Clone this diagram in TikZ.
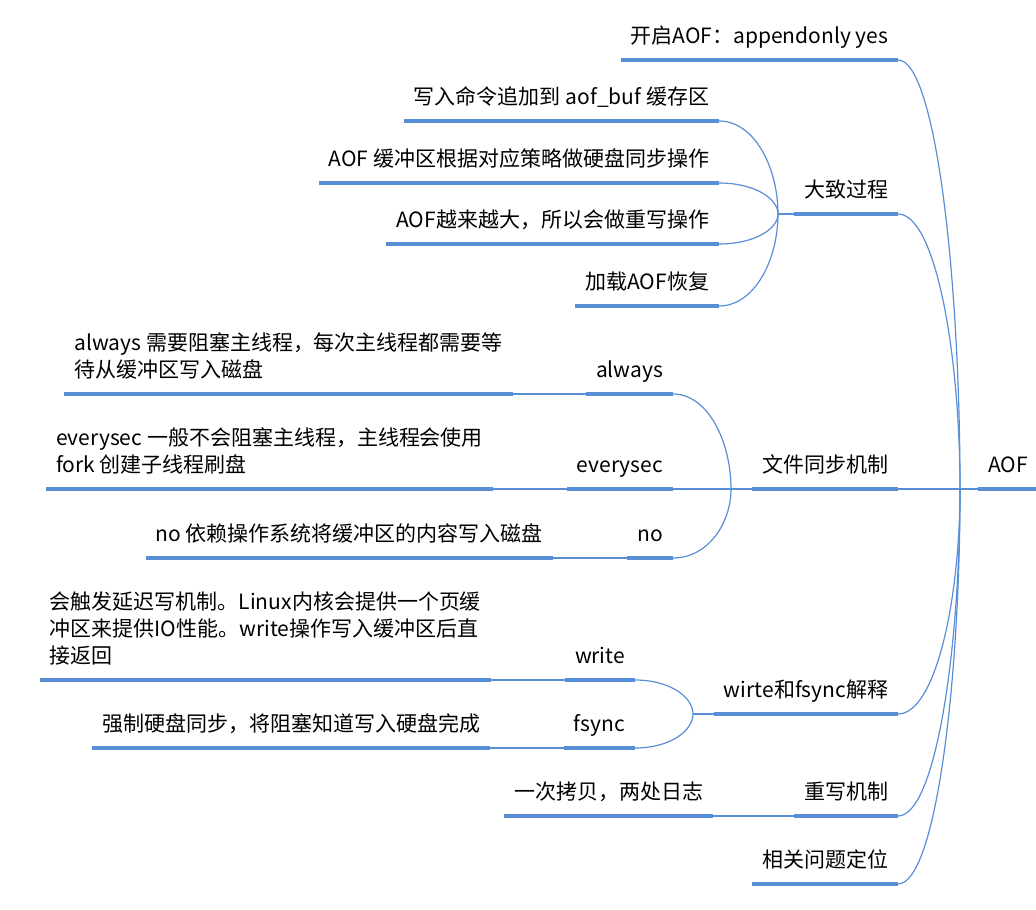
\documentclass[tikz,border=0pt]{standalone}
\usepackage{fontspec}
\setmainfont{Noto Sans CJK SC}
\usepackage{xcolor}
\usetikzlibrary{positioning,calc}
\definecolor{mapblue}{RGB}{88,142,214}

\begin{document}
\begin{tikzpicture}[
  x=1pt, y=-1pt,
  font=\fontsize{21}{27}\selectfont,
  topic/.style={inner xsep=10pt, inner ysep=8pt, outer sep=0pt, align=left, execute at end node=\strut},
  underbar/.style={draw=mapblue, line width=4pt},
  branch/.style={draw=mapblue, line width=1.2pt},
  mapbend/.style={to path={.. controls ($(\tikztostart)!0.6!(\tikztostart -| \tikztotarget)$)
    and ($(\tikztotarget)!0.5!(\tikztostart -| \tikztotarget)$) .. (\tikztotarget)}}
]
\useasboundingbox (0,0) rectangle (1036,910);

% root and main topics
\node[topic, anchor=south west] (aof) at (978,489) {AOF};
\node[topic, anchor=south east] (start) at (898,60) {开启AOF：appendonly yes};
\node[topic, anchor=south east] (process) at (898,214) {大致过程};
\node[topic, anchor=south east] (sync) at (898,489) {文件同步机制};
\node[topic, anchor=south east] (wf) at (898,714) {wirte和fsync解释};
\node[topic, anchor=south east] (rewrite) at (898,816) {重写机制};
\node[topic, anchor=south east] (locate) at (898,884) {相关问题定位};

% 大致过程
\node[topic, anchor=south east] (p-append) at (719,121) {写入命令追加到 aof\_buf 缓存区};
\node[topic, anchor=south east] (p-sync) at (719,183) {AOF 缓冲区根据对应策略做硬盘同步操作};
\node[topic, anchor=south east] (p-rewrite) at (719,244) {AOF越来越大，所以会做重写操作};
\node[topic, anchor=south east] (p-load) at (719,306) {加载AOF恢复};

% 文件同步机制
\node[topic, anchor=south east] (always) at (673,394) {always};
\node[topic, anchor=south east] (everysec) at (673,489) {everysec};
\node[topic, anchor=south east] (no) at (673,558) {no};
\node[topic, anchor=south east] (always-note) at (513,394) {always 需要阻塞主线程，每次主线程都需要等\\待从缓冲区写入磁盘};
\node[topic, anchor=south east] (everysec-note) at (493,489) {everysec 一般不会阻塞主线程，主线程会使用\\fork 创建子线程刷盘};
\node[topic, anchor=south east] (no-note) at (553,558) {no 依赖操作系统将缓冲区的内容写入磁盘};

% wirte和fsync解释
\node[topic, anchor=south east] (write) at (635,680) {write};
\node[topic, anchor=south east] (fsync) at (635,748) {fsync};
\node[topic, anchor=south east] (write-note) at (491,680) {会触发延迟写机制。Linux内核会提供一个页缓\\冲区来提供IO性能。write操作写入缓冲区后直\\接返回};
\node[topic, anchor=south east] (fsync-note) at (490,748) {强制硬盘同步，将阻塞知道写入硬盘完成};

% 重写机制
\node[topic, anchor=south east] (rewrite-note) at (713,816) {一次拷贝，两处日志};

\foreach \n in {aof,start,process,sync,wf,rewrite,locate,p-append,p-sync,p-rewrite,p-load,
  always,everysec,no,always-note,everysec-note,no-note,write,fsync,write-note,fsync-note,rewrite-note}
  \draw[underbar] (\n.south west) -- (\n.south east);

\coordinate (aof-j) at (960,489);
\coordinate (process-j) at (778,214);
\coordinate (sync-j) at (731,489);
\coordinate (wf-j) at (693,714);

\draw[branch] (aof-j) -- (aof.south west);
\draw[branch] (start.south east) to[mapbend] (aof-j);
\draw[branch] (process.south east) to[mapbend] (aof-j);
\draw[branch] (sync.south east) -- (aof-j);
\draw[branch] (wf.south east) to[mapbend] (aof-j);
\draw[branch] (rewrite.south east) to[mapbend] (aof-j);
\draw[branch] (locate.south east) to[mapbend] (aof-j);

\draw[branch] (process-j) -- (process.south west);
\draw[branch] (p-append.south east) to[mapbend] (process-j);
\draw[branch] (p-sync.south east) to[mapbend] (process-j);
\draw[branch] (p-rewrite.south east) to[mapbend] (process-j);
\draw[branch] (p-load.south east) to[mapbend] (process-j);

\draw[branch] (sync-j) -- (sync.south west);
\draw[branch] (always.south east) to[mapbend] (sync-j);
\draw[branch] (everysec.south east) -- (sync-j);
\draw[branch] (no.south east) to[mapbend] (sync-j);
\draw[branch] (always-note.south east) -- (always.south west);
\draw[branch] (everysec-note.south east) -- (everysec.south west);
\draw[branch] (no-note.south east) -- (no.south west);

\draw[branch] (wf-j) -- (wf.south west);
\draw[branch] (write.south east) to[mapbend] (wf-j);
\draw[branch] (fsync.south east) to[mapbend] (wf-j);
\draw[branch] (write-note.south east) -- (write.south west);
\draw[branch] (fsync-note.south east) -- (fsync.south west);

\draw[branch] (rewrite-note.south east) -- (rewrite.south west);
\end{tikzpicture}
\end{document}
